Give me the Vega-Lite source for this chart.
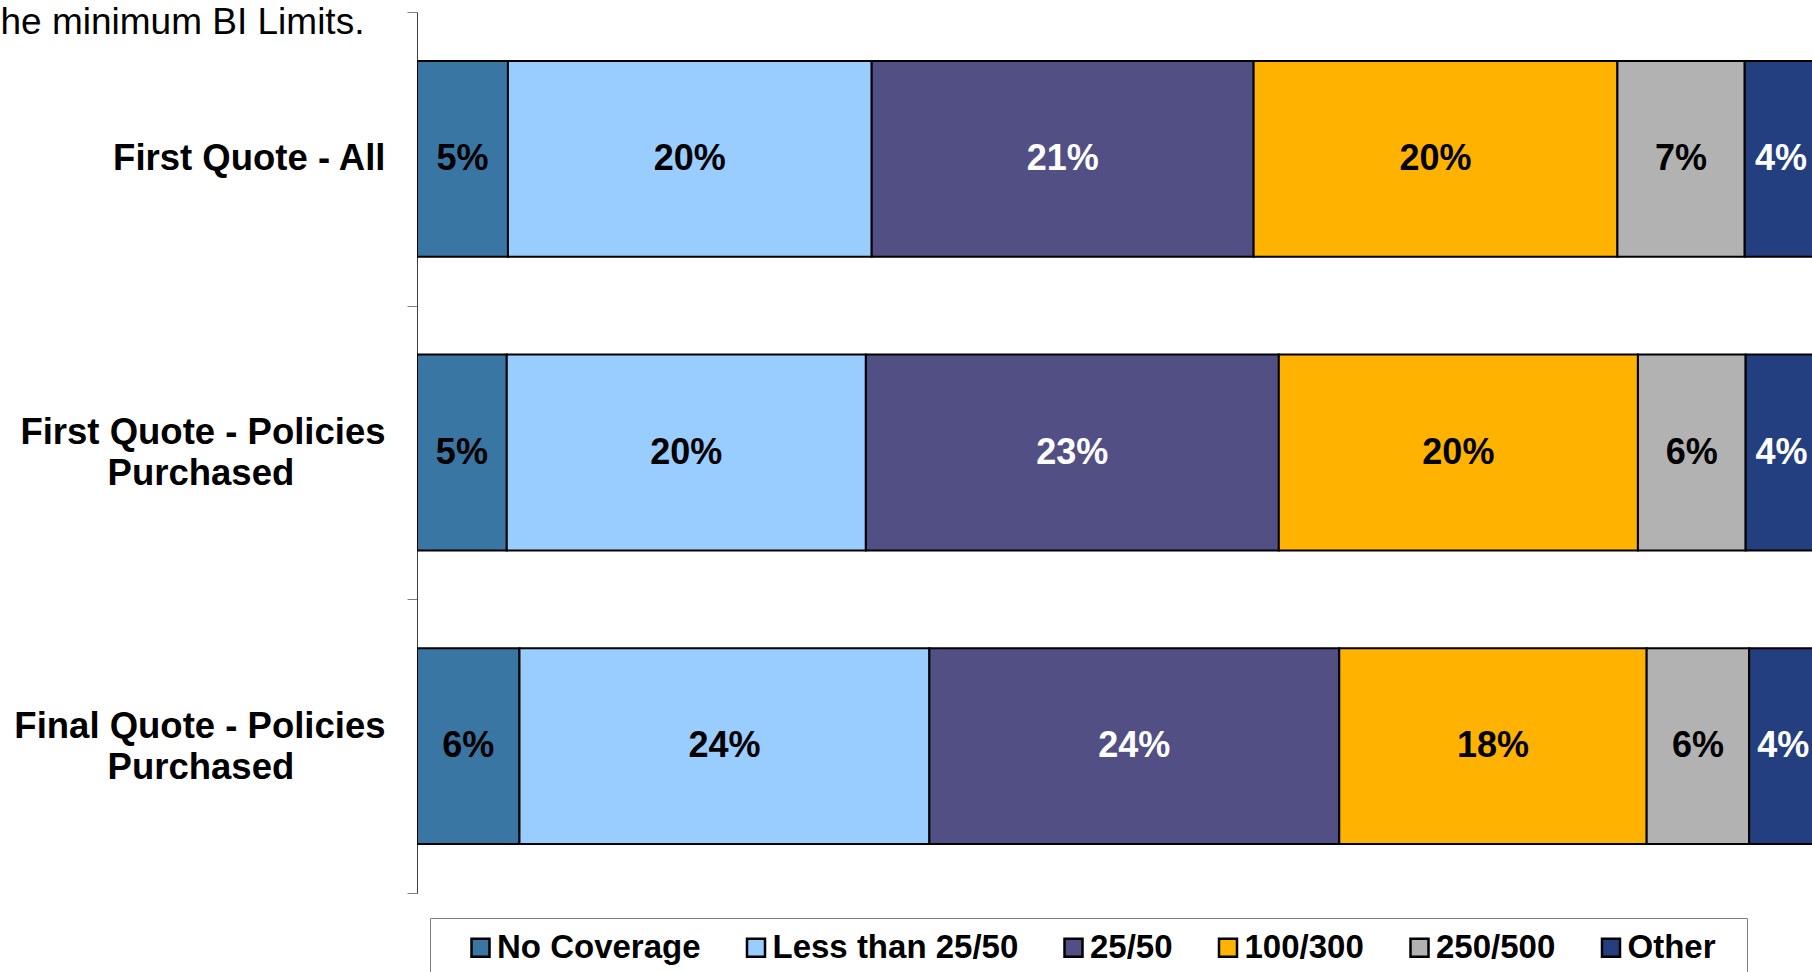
{
  "$schema": "https://vega.github.io/schema/vega-lite/v6.json",
  "width": 1395,
  "height": 881,
  "autosize": {"type": "none"},
  "padding": {"left": 417, "top": 12, "right": 0, "bottom": 79},
  "background": "white",
  "data": {
    "values": [
      {"quote": "First Quote - All", "series": "No Coverage", "pct": 5},
      {"quote": "First Quote - All", "series": "Less than 25/50", "pct": 20},
      {"quote": "First Quote - All", "series": "25/50", "pct": 21},
      {"quote": "First Quote - All", "series": "100/300", "pct": 20},
      {"quote": "First Quote - All", "series": "250/500", "pct": 7},
      {"quote": "First Quote - All", "series": "Other", "pct": 4},
      {"quote": "First Quote - Policies Purchased", "series": "No Coverage", "pct": 5},
      {"quote": "First Quote - Policies Purchased", "series": "Less than 25/50", "pct": 20},
      {"quote": "First Quote - Policies Purchased", "series": "25/50", "pct": 23},
      {"quote": "First Quote - Policies Purchased", "series": "100/300", "pct": 20},
      {"quote": "First Quote - Policies Purchased", "series": "250/500", "pct": 6},
      {"quote": "First Quote - Policies Purchased", "series": "Other", "pct": 4},
      {"quote": "Final Quote - Policies Purchased", "series": "No Coverage", "pct": 6},
      {"quote": "Final Quote - Policies Purchased", "series": "Less than 25/50", "pct": 24},
      {"quote": "Final Quote - Policies Purchased", "series": "25/50", "pct": 24},
      {"quote": "Final Quote - Policies Purchased", "series": "100/300", "pct": 18},
      {"quote": "Final Quote - Policies Purchased", "series": "250/500", "pct": 6},
      {"quote": "Final Quote - Policies Purchased", "series": "Other", "pct": 4}
    ]
  },
  "transform": [
    {"calculate": "indexof(['No Coverage','Less than 25/50','25/50','100/300','250/500','Other'], datum.series)", "as": "ord"},
    {"stack": "pct", "groupby": ["quote"], "sort": [{"field": "ord"}], "offset": "normalize", "as": ["x0", "x1"]},
    {"calculate": "(datum.x0 + datum.x1) / 2", "as": "xmid"},
    {"calculate": "datum.pct + '%'", "as": "label"}
  ],
  "encoding": {
    "y": {
      "field": "quote",
      "type": "nominal",
      "sort": ["First Quote - All", "First Quote - Policies Purchased", "Final Quote - Policies Purchased"],
      "scale": {"paddingInner": 0, "paddingOuter": 0},
      "axis": {
        "title": "he minimum BI Limits.",
        "titleAngle": 0,
        "titleX": -417,
        "titleY": 21,
        "titleAlign": "left",
        "titleBaseline": "alphabetic",
        "titleFont": "Liberation Sans",
        "titleFontSize": 37,
        "titleFontWeight": "normal",
        "titleColor": "black",
        "labelFont": "Liberation Sans",
        "labelFontWeight": "bold",
        "labelFontSize": 36.5,
        "labelColor": "black",
        "labelAlign": "right",
        "labelBaseline": "middle",
        "labelPadding": 22,
        "labelLineHeight": 41,
        "labelLimit": 0,
        "labelOffset": {"condition": {"test": "datum.value != 'First Quote - All'", "value": -20}, "value": 0},
        "tickBand": "extent",
        "tickSize": 10,
        "tickColor": "#808080",
        "tickWidth": 1,
        "domainColor": "#404040",
        "domainWidth": 1,
        "grid": false,
        "labelExpr": "datum.value == 'First Quote - All' ? 'First Quote - All' : datum.value == 'First Quote - Policies Purchased' ? ['First Quote - Policies', 'Purchased\\u00a0\\u00a0\\u00a0\\u00a0\\u00a0\\u00a0\\u00a0\\u00a0\\u00a0\\u200b'] : datum.value == 'Final Quote - Policies Purchased' ? ['Final Quote - Policies', 'Purchased\\u00a0\\u00a0\\u00a0\\u00a0\\u00a0\\u00a0\\u00a0\\u00a0\\u00a0\\u200b'] : ''"
      }
    }
  },
  "layer": [
    {
      "mark": {"type": "bar", "height": {"band": 0.667}, "stroke": "black", "strokeWidth": 2, "clip": true},
      "encoding": {
        "x": {"field": "x0", "type": "quantitative", "scale": {"domain": [0, 0.9961], "nice": false, "zero": true}, "axis": null},
        "x2": {"field": "x1"},
        "color": {
          "field": "series",
          "type": "nominal",
          "scale": {
            "domain": ["No Coverage", "Less than 25/50", "25/50", "100/300", "250/500", "Other"],
            "range": ["#3A76A3", "#99CCFF", "#524F85", "#FFB300", "#B2B2B2", "#233F7F"]
          },
          "legend": {
            "orient": "none",
            "legendX": 13,
            "legendY": 906,
            "direction": "horizontal",
            "title": null,
            "symbolType": "square",
            "symbolSize": 324,
            "symbolStrokeColor": "black",
            "symbolStrokeWidth": 2.5,
            "symbolOpacity": 1,
            "symbolOffset": 21,
            "labelOffset": 0,
            "columnPadding": 17.5,
            "padding": 13,
            "strokeColor": "#808080",
            "fillColor": "white",
            "labelFont": "Liberation Sans",
            "labelFontSize": 33,
            "labelFontWeight": "bold",
            "labelColor": "black",
            "labelLimit": 0,
            "labelExpr": "datum.label == 'Other' ? 'Other\\u00a0\\u00a0\\u200b' : datum.label"
          }
        }
      }
    },
    {
      "mark": {"type": "text", "font": "Liberation Sans", "fontWeight": "bold", "fontSize": 36, "baseline": "middle", "align": "center"},
      "encoding": {
        "x": {"field": "xmid", "type": "quantitative"},
        "text": {"field": "label"},
        "color": {
          "condition": {"test": "datum.series === '25/50' || datum.series === 'Other'", "value": "white"},
          "value": "black"
        }
      }
    }
  ],
  "config": {"view": {"stroke": null}}
}
